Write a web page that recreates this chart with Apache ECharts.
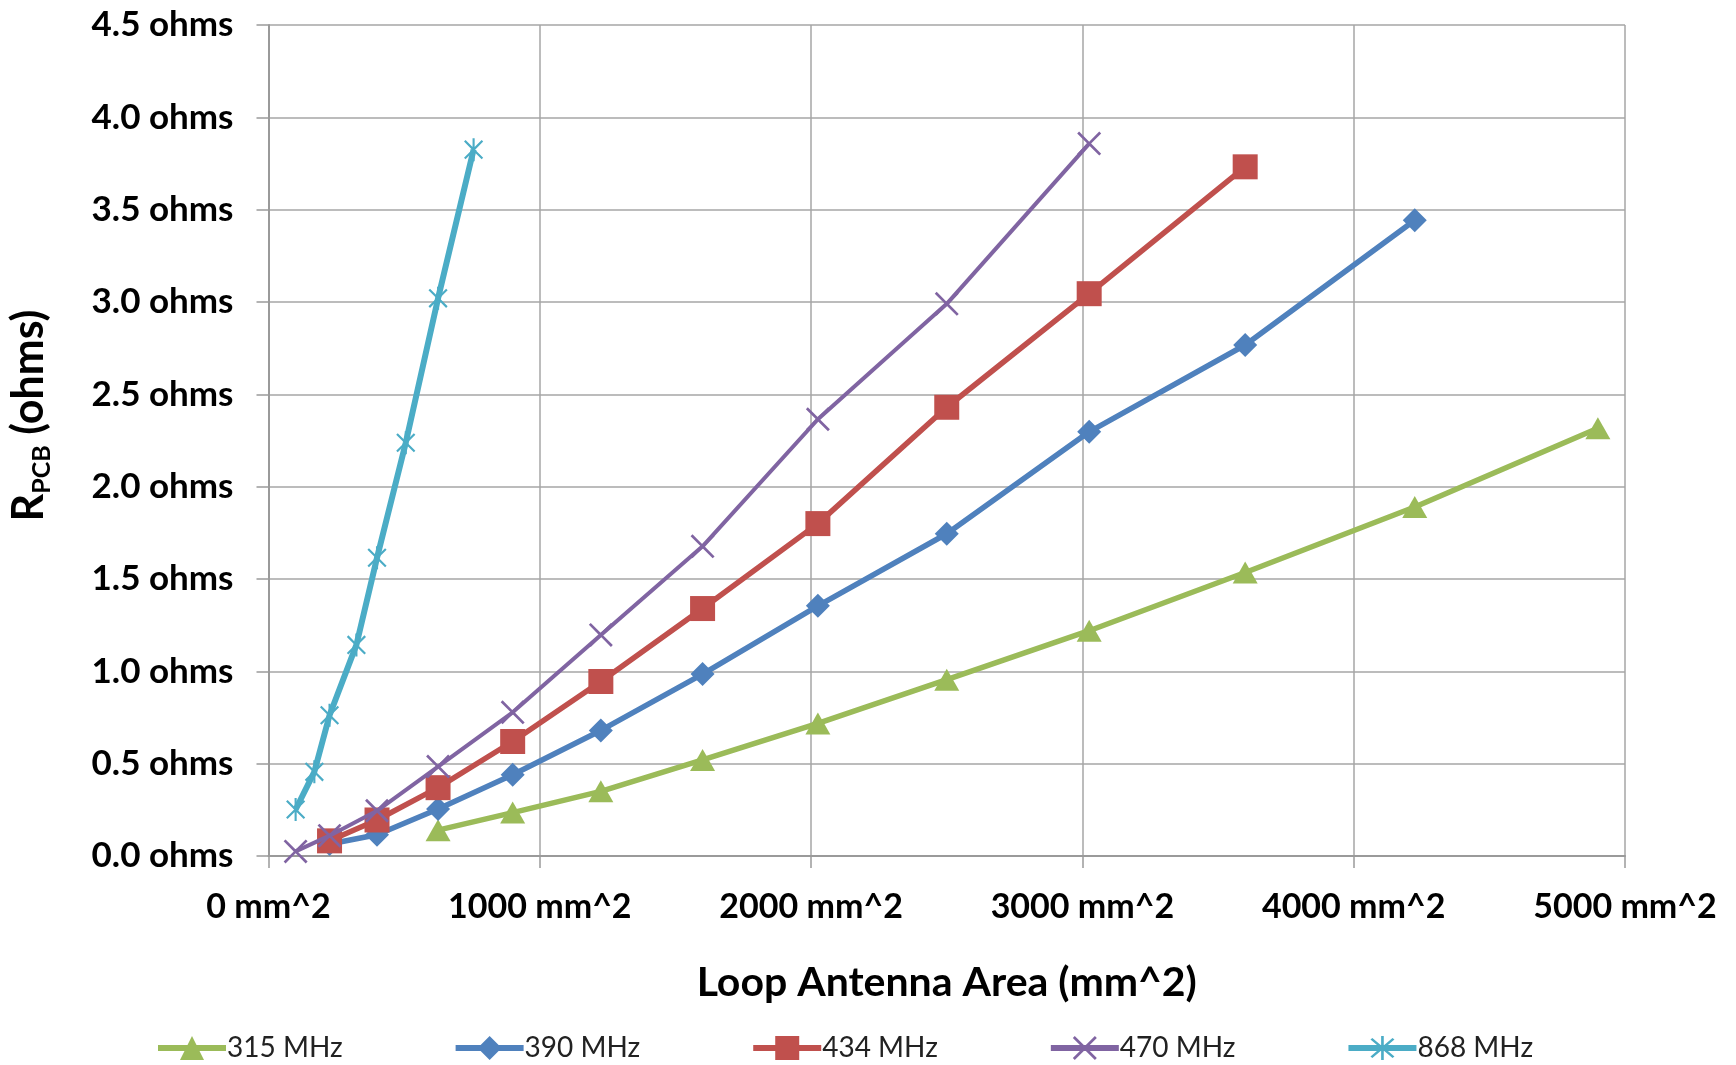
<!DOCTYPE html>
<html>
<head>
<meta charset="utf-8">
<script src="https://cdn.jsdelivr.net/npm/echarts@6/dist/echarts.min.js"></script>
<style>
html,body{margin:0;padding:0;background:#fff;}
#chart{width:1736px;height:1065px;}
</style>
</head>
<body>
<div id="chart"></div>
<script>
// Data
const seriesNames = ['315 MHz', '390 MHz', '434 MHz', '470 MHz', '868 MHz'];

const area315 = [625, 900, 1225, 1600, 2025, 2500, 3025, 3600, 4225, 4900];
const r315    = [0.14, 0.235, 0.35, 0.52, 0.718, 0.955, 1.22, 1.535, 1.89, 2.316];

const area390 = [225, 400, 625, 900, 1225, 1600, 2025, 2500, 3025, 3600, 4225];
const r390    = [0.065, 0.115, 0.255, 0.44, 0.68, 0.985, 1.355, 1.745, 2.297, 2.767, 3.443];

const area434 = [225, 400, 625, 900, 1225, 1600, 2025, 2500, 3025, 3600];
const r434    = [0.082, 0.195, 0.37, 0.62, 0.945, 1.34, 1.8, 2.43, 3.045, 3.732];

const area470 = [100, 225, 400, 625, 900, 1225, 1600, 2025, 2500, 3025];
const r470    = [0.025, 0.11, 0.245, 0.484, 0.778, 1.197, 1.677, 2.365, 2.99, 3.858];

const area868 = [100, 169, 225, 324, 400, 506, 625, 756];
const r868    = [0.252, 0.456, 0.762, 1.143, 1.615, 2.238, 3.02, 3.825];

const xTicks = [0, 1000, 2000, 3000, 4000, 5000];
const yTicks = [0, 0.5, 1, 1.5, 2, 2.5, 3, 3.5, 4, 4.5];

const colors = ['#9BBB59', '#4F81BD', '#C0504D', '#8064A2', '#4BACC6'];

function pairs(xs, ys) { return xs.map((x, i) => [x, ys[i]]); }

const xSym = 'path://M0,0.8L0.8,0L5,4.2L9.2,0L10,0.8L5.8,5L10,9.2L9.2,10L5,5.8L0.8,10L0,9.2L4.2,5Z';
const starSym = 'path://M0,0.8L0.8,0L5,4.2L9.2,0L10,0.8L5.8,5L10,9.2L9.2,10L5,5.8L0.8,10L0,9.2L4.2,5Z M4.45,-1L5.55,-1L5.55,11L4.45,11Z';

const FONT = 'Lato, "Open Sans", sans-serif';

const chart = echarts.init(document.getElementById('chart'), null, {renderer: 'canvas'});

const dataSets = [pairs(area315, r315), pairs(area390, r390), pairs(area434, r434), pairs(area470, r470), pairs(area868, r868)];
const symbols = ['triangle', 'diamond', 'rect', xSym, starSym];
const symSizes = [[25, 22], 24, 25, 24, 23];
const lineWidths = [5.5, 5.5, 5.5, 4, 6];

const series = seriesNames.map((n, i) => ({
  name: n,
  type: 'line',
  data: dataSets[i],
  symbol: symbols[i],
  symbolSize: symSizes[i],
  symbolKeepAspect: true,
  showAllSymbol: true,
  smooth: false,
  lineStyle: {color: colors[i], width: lineWidths[i]},
  itemStyle: {color: colors[i]},
  emphasis: {disabled: true},
  z: 2 + i
}));

chart.setOption({
  animation: false,
  backgroundColor: '#ffffff',
  color: colors,
  grid: {left: 267, right: 111, top: 25, bottom: 209, containLabel: false},
  xAxis: {
    type: 'value',
    min: 0, max: 5000, interval: 1000,
    name: 'Loop Antenna Area (mm^2)',
    nameLocation: 'middle',
    nameGap: 106,
    nameTextStyle: {fontFamily: FONT, fontWeight: 'bold', fontSize: 41, color: '#000'},
    axisLine: {show: true, lineStyle: {color: '#9a9a9a', width: 2}},
    axisTick: {show: true, length: 12, inside: false, lineStyle: {color: '#9a9a9a', width: 1.5}},
    axisLabel: {
      margin: 34, fontFamily: FONT, fontWeight: 'bold', fontSize: 34, color: '#000',
      formatter: v => xTicks.includes(v) ? v + ' mm^2' : ''
    },
    splitLine: {show: true, lineStyle: {color: '#a6a6a6', width: 1.5}}
  },
  yAxis: {
    type: 'value',
    min: 0, max: 4.5, interval: 0.5,
    name: '{r|R}{sub|PCB}{r| (ohms)}',
    nameLocation: 'middle',
    nameRotate: 90,
    nameGap: 214,
    nameTextStyle: {
      color: '#000',
      padding: [0, 0, 0, 50],
      rich: {
        r: {fontFamily: FONT, fontWeight: 'bold', fontSize: 43, color: '#000', lineHeight: 50},
        sub: {fontFamily: FONT, fontWeight: 'bold', fontSize: 25, color: '#000', verticalAlign: 'bottom', lineHeight: 34}
      }
    },
    axisLine: {show: true, lineStyle: {color: '#9a9a9a', width: 2}},
    axisTick: {show: true, length: 12, inside: false, lineStyle: {color: '#9a9a9a', width: 1.5}},
    axisLabel: {
      margin: 35, fontFamily: FONT, fontWeight: 'bold', fontSize: 35, color: '#000',
      formatter: v => yTicks.some(t => Math.abs(t - v) < 1e-9) ? v.toFixed(1) + ' ohms' : ''
    },
    splitLine: {show: true, lineStyle: {color: '#a6a6a6', width: 1.5}}
  },
  legend: {
    show: true,
    left: 150,
    top: 1029,
    itemWidth: 68,
    itemHeight: 30,
    itemGap: 110,
    lineStyle: {width: 6},
    textStyle: {fontFamily: FONT, fontSize: 28, color: '#222', padding: [0, 0, 0, -4]},
    data: seriesNames
  },
  series: series
});
</script>
</body>
</html>
